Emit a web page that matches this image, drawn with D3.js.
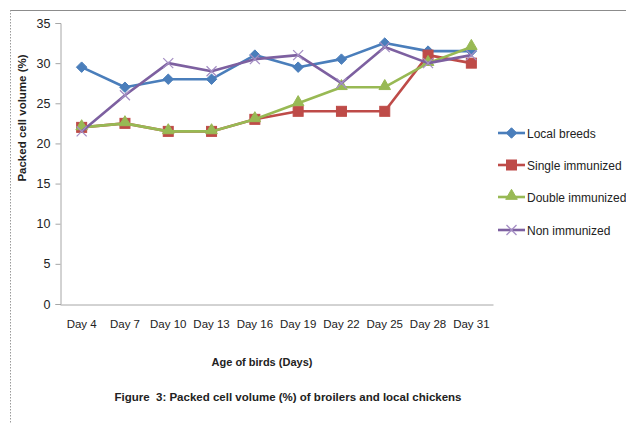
<!DOCTYPE html>
<html>
<head>
<meta charset="utf-8">
<script src="https://cdn.jsdelivr.net/npm/d3@7"></script>
<style>
  html, body { margin: 0; padding: 0; background: #fff; }
  svg { display: block; }
</style>
</head>
<body>
<div id="chart"></div>
<script>
// Packed cell volume (%) by age of birds
const days = ["Day 4", "Day 7", "Day 10", "Day 13", "Day 16", "Day 19", "Day 22", "Day 25", "Day 28", "Day 31"];
const localBreeds      = [29.5, 27, 28, 28, 31, 29.5, 30.5, 32.5, 31.5, 31.5];
const singleImmunized  = [22, 22.5, 21.5, 21.5, 23, 24, 24, 24, 31, 30];
const doubleImmunized  = [22, 22.5, 21.5, 21.5, 23, 25, 27, 27, 30, 32];
const nonImmunized     = [21.5, 26, 30, 29, 30.5, 31, 27.5, 32, 30, 31];
const yTicks = [0, 5, 10, 15, 20, 25, 30, 35];

const series = [
  { name: "Local breeds",     values: localBreeds,     color: "#4a7ebb", marker: "diamond" },
  { name: "Single immunized", values: singleImmunized, color: "#be4b48", marker: "square" },
  { name: "Double immunized", values: doubleImmunized, color: "#98b954", marker: "triangle" },
  { name: "Non immunized",    values: nonImmunized,    color: "#7d60a0", marker: "cross" }
];

const W = 626, H = 423;
const svg = d3.select("#chart").append("svg").attr("width", W).attr("height", H);
const font = "'Liberation Sans', Arial, sans-serif";

// outer frame: solid top edge, dashed left edge
svg.append("line").attr("x1", 10).attr("x2", W).attr("y1", 10.5).attr("y2", 10.5)
  .attr("stroke", "#8c8c8c").attr("stroke-width", 1);
svg.append("line").attr("x1", 10.5).attr("x2", 10.5).attr("y1", 10).attr("y2", H)
  .attr("stroke", "#9a9a9a").attr("stroke-width", 1).attr("stroke-dasharray", "1.5,1.5");

const plot = { left: 60, right: 493, top: 23, bottom: 304 };

const x = d3.scaleBand().domain(days).range([plot.left, plot.right]);
const y = d3.scaleLinear().domain([0, 35]).range([plot.bottom, plot.top]);

// y axis
const yAxis = svg.append("g").attr("transform", `translate(${plot.left + 0.5},0)`)
  .call(d3.axisLeft(y).tickValues(yTicks).tickSize(5).tickPadding(5));
yAxis.select(".domain").attr("stroke", "#a6a6a6");
yAxis.selectAll(".tick line").attr("stroke", "#a6a6a6");
yAxis.selectAll(".tick text").attr("font-family", font).attr("font-size", 12.5).attr("fill", "#222");

// x axis
const xAxis = svg.append("g").attr("transform", `translate(0,${plot.bottom + 0.5})`)
  .call(d3.axisBottom(x).tickSize(0).tickPadding(15));
xAxis.select(".domain").attr("stroke", "#a6a6a6");
xAxis.selectAll(".tick text").attr("font-family", font).attr("font-size", 11.5).attr("fill", "#222");

// axis titles
svg.append("text")
  .attr("transform", "translate(26,118) rotate(-90)")
  .attr("text-anchor", "middle")
  .attr("font-family", font).attr("font-size", 11.5).attr("font-weight", "bold").attr("fill", "#222")
  .text("Packed cell volume (%)");

svg.append("text")
  .attr("x", 262).attr("y", 366)
  .attr("text-anchor", "middle")
  .attr("font-family", font).attr("font-size", 11).attr("font-weight", "bold").attr("fill", "#222")
  .text("Age of birds (Days)");

svg.append("text")
  .attr("x", 288).attr("y", 401)
  .attr("text-anchor", "middle")
  .style("white-space", "pre")
  .attr("font-family", font).attr("font-size", 11.5).attr("font-weight", "bold").attr("fill", "#222")
  .text("Figure  3: Packed cell volume (%) of broilers and local chickens");

// marker shapes
function drawMarker(g, type, color, cx, cy) {
  if (type === "diamond") {
    g.append("path").attr("d", d3.symbol().type(d3.symbolDiamond2).size(70)())
      .attr("transform", `translate(${cx},${cy})`).attr("fill", color).attr("stroke", color);
  } else if (type === "square") {
    g.append("rect").attr("x", cx - 5).attr("y", cy - 5).attr("width", 10).attr("height", 10)
      .attr("fill", color).attr("stroke", color);
  } else if (type === "triangle") {
    g.append("path").attr("d", d3.symbol().type(d3.symbolTriangle).size(58)())
      .attr("transform", `translate(${cx},${cy - 1})`).attr("fill", color).attr("stroke", color);
  } else {
    g.append("path").attr("d", `M${cx - 5},${cy - 5}L${cx + 5},${cy + 5}M${cx - 5},${cy + 5}L${cx + 5},${cy - 5}`)
      .attr("stroke", "#a58fc4").attr("stroke-width", 1.3).attr("fill", "none");
  }
}

const line = d3.line()
  .x((d, i) => x(days[i]) + x.bandwidth() / 2)
  .y(d => y(d));

series.forEach(s => {
  const g = svg.append("g");
  g.append("path").datum(s.values).attr("d", line)
    .attr("fill", "none").attr("stroke", s.color).attr("stroke-width", 2.6)
    .attr("stroke-linejoin", "round");
  s.values.forEach((v, i) => drawMarker(g, s.marker, s.color, x(days[i]) + x.bandwidth() / 2, y(v)));
});

// legend
const legendY = [133, 165, 197, 230];
series.forEach((s, i) => {
  const g = svg.append("g");
  const ly = legendY[i];
  g.append("line").attr("x1", 498).attr("x2", 525).attr("y1", ly).attr("y2", ly)
    .attr("stroke", s.color).attr("stroke-width", 2.6);
  drawMarker(g, s.marker, s.color, 511.5, ly);
  g.append("text").attr("x", 527).attr("y", ly + 4.5)
    .attr("font-family", font).attr("font-size", 12).attr("fill", "#222")
    .text(s.name);
});
</script>
</body>
</html>
